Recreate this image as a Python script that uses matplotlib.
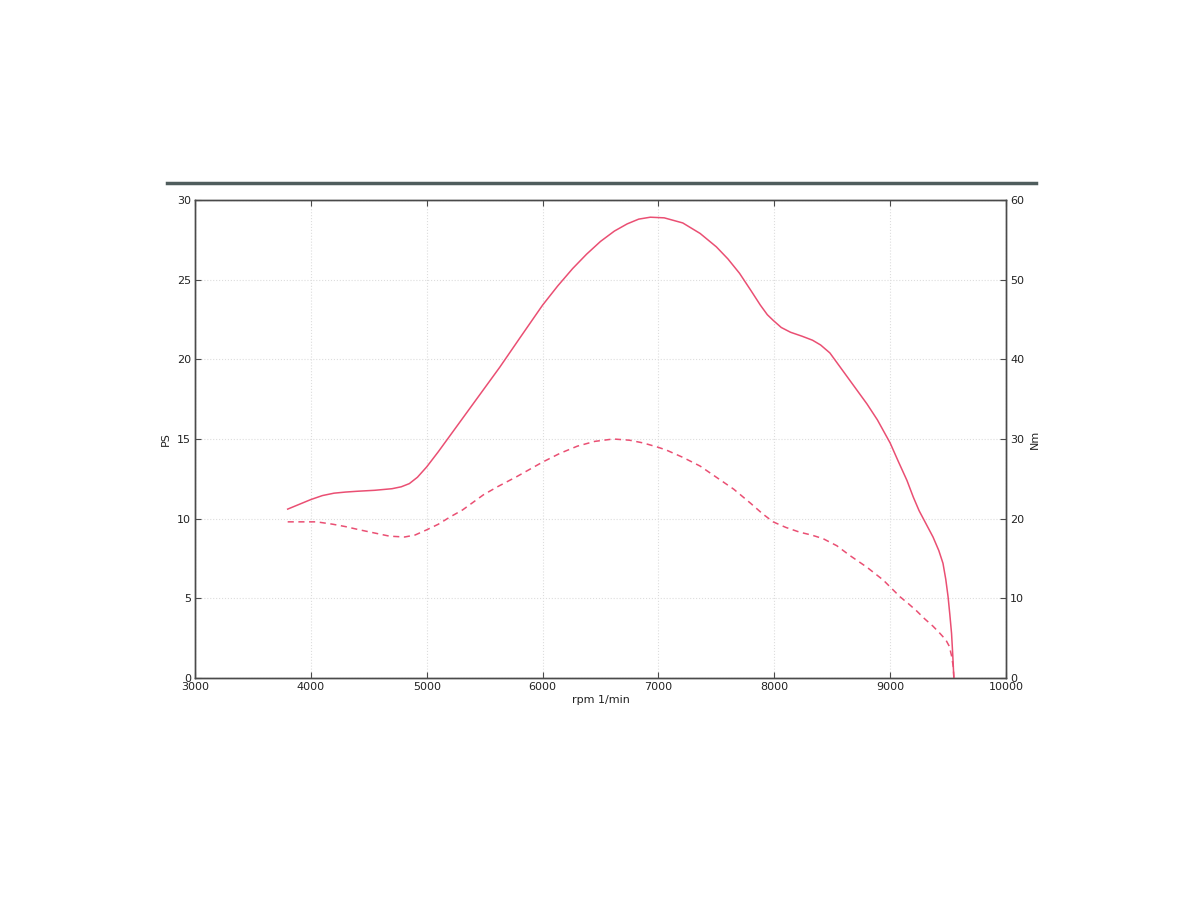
import matplotlib
matplotlib.use("Agg")
import matplotlib.pyplot as plt
from matplotlib.lines import Line2D

# Power curve (PS) vs rpm
rpm_ps = [3800, 3900, 4000, 4100, 4200, 4300, 4400, 4550, 4700, 4780, 4850, 4920,
          5000, 5100, 5200, 5300, 5400, 5500, 5630, 5800, 6000, 6130, 6260, 6380, 6500,
          6620, 6730, 6830, 6930, 7050, 7210, 7360, 7500, 7600, 7700, 7800,
          7880, 7940, 7990, 8060, 8140, 8240, 8330, 8400, 8480, 8560, 8650,
          8730, 8800, 8890, 9000, 9070, 9145, 9200, 9250, 9290, 9330, 9370,
          9420, 9456, 9480, 9500, 9515, 9530, 9540, 9550]
ps = [10.6, 10.9, 11.2, 11.45, 11.6, 11.67, 11.72, 11.78, 11.88, 12.0, 12.2, 12.6,
      13.25, 14.2, 15.2, 16.2, 17.2, 18.2, 19.5, 21.3, 23.4, 24.6, 25.7, 26.6, 27.4,
      28.05, 28.5, 28.8, 28.92, 28.88, 28.56, 27.9, 27.06, 26.3, 25.4, 24.3,
      23.4, 22.8, 22.45, 22.0, 21.7, 21.45, 21.2, 20.9, 20.4, 19.6, 18.7,
      17.9, 17.2, 16.2, 14.75, 13.6, 12.4, 11.35, 10.5, 9.95, 9.4, 8.85,
      8.0, 7.2, 6.2, 5.1, 4.0, 2.8, 1.5, 0.0]

# Torque curve (Nm) vs rpm
rpm_nm = [3800, 4050, 4190, 4300, 4420, 4550, 4680, 4810, 4900, 5000, 5100,
          5200, 5310, 5490, 5610, 5780, 6000, 6150, 6300, 6450, 6610, 6750,
          6870, 7000, 7070, 7210, 7360, 7500, 7650, 7790, 7900, 7990, 8100,
          8220, 8320, 8420, 8540, 8650, 8800, 8940, 9085, 9160, 9230, 9300,
          9370, 9430, 9480, 9510, 9530, 9545, 9550]
nm = [19.6, 19.6, 19.3, 19.0, 18.6, 18.2, 17.8, 17.7, 17.95, 18.6, 19.3,
      20.2, 21.1, 23.0, 24.0, 25.3, 27.1, 28.2, 29.1, 29.7, 30.0, 29.85,
      29.5, 28.95, 28.6, 27.7, 26.6, 25.2, 23.7, 22.0, 20.6, 19.6, 18.9,
      18.3, 17.95, 17.5, 16.6, 15.4, 13.9, 12.3, 10.2, 9.3, 8.4, 7.4,
      6.5, 5.6, 4.8, 4.0, 2.8, 1.4, 0.0]

x_ticks = [3000, 4000, 5000, 6000, 7000, 8000, 9000, 10000]
ps_ticks = [0, 5, 10, 15, 20, 25, 30]
nm_ticks = [0, 10, 20, 30, 40, 50, 60]

line_color = "#ea4f73"
spine_color = "#4a4a4a"

plt.rcParams['font.family'] = ['DejaVu Sans']
plt.rcParams['font.size'] = 8

fig = plt.figure(figsize=(12, 9.14), dpi=100)
ax = fig.add_axes([195/1200, 1-678/914, (1006-195)/1200, (678-200)/914])
ax2 = ax.twinx()

ax.plot(rpm_ps, ps, color=line_color, lw=1.1, solid_joinstyle="round")
ax2.plot(rpm_nm, nm, color=line_color, lw=1.1, ls=(0, (4, 3)))

ax.set_xlim(3000, 10000)
ax.set_ylim(0, 30)
ax2.set_ylim(0, 60)
ax.set_xticks(x_ticks)
ax.set_yticks(ps_ticks)
ax2.set_yticks(nm_ticks)

ax.grid(True, color="#dddddd", ls=":", lw=0.8)

for a in (ax, ax2):
    for s in a.spines.values():
        s.set_color(spine_color)
        s.set_linewidth(1.0)
ax.tick_params(direction="in", length=4, color=spine_color, labelcolor="#222222",
               top=True, pad=3)
ax2.tick_params(direction="in", length=4, color=spine_color, labelcolor="#222222", pad=3)

ax.set_xlabel("rpm 1/min", labelpad=2, color="#222222")
ax.set_ylabel("PS", labelpad=4, color="#222222")
ax2.set_ylabel("Nm", labelpad=4, color="#222222")

fig.add_artist(Line2D([167/1200, 1036/1200], [1-183/914, 1-183/914],
                      color="#4f5d5d", lw=2.5, transform=fig.transFigure))

fig.savefig("out.png", dpi=100, facecolor="white")
